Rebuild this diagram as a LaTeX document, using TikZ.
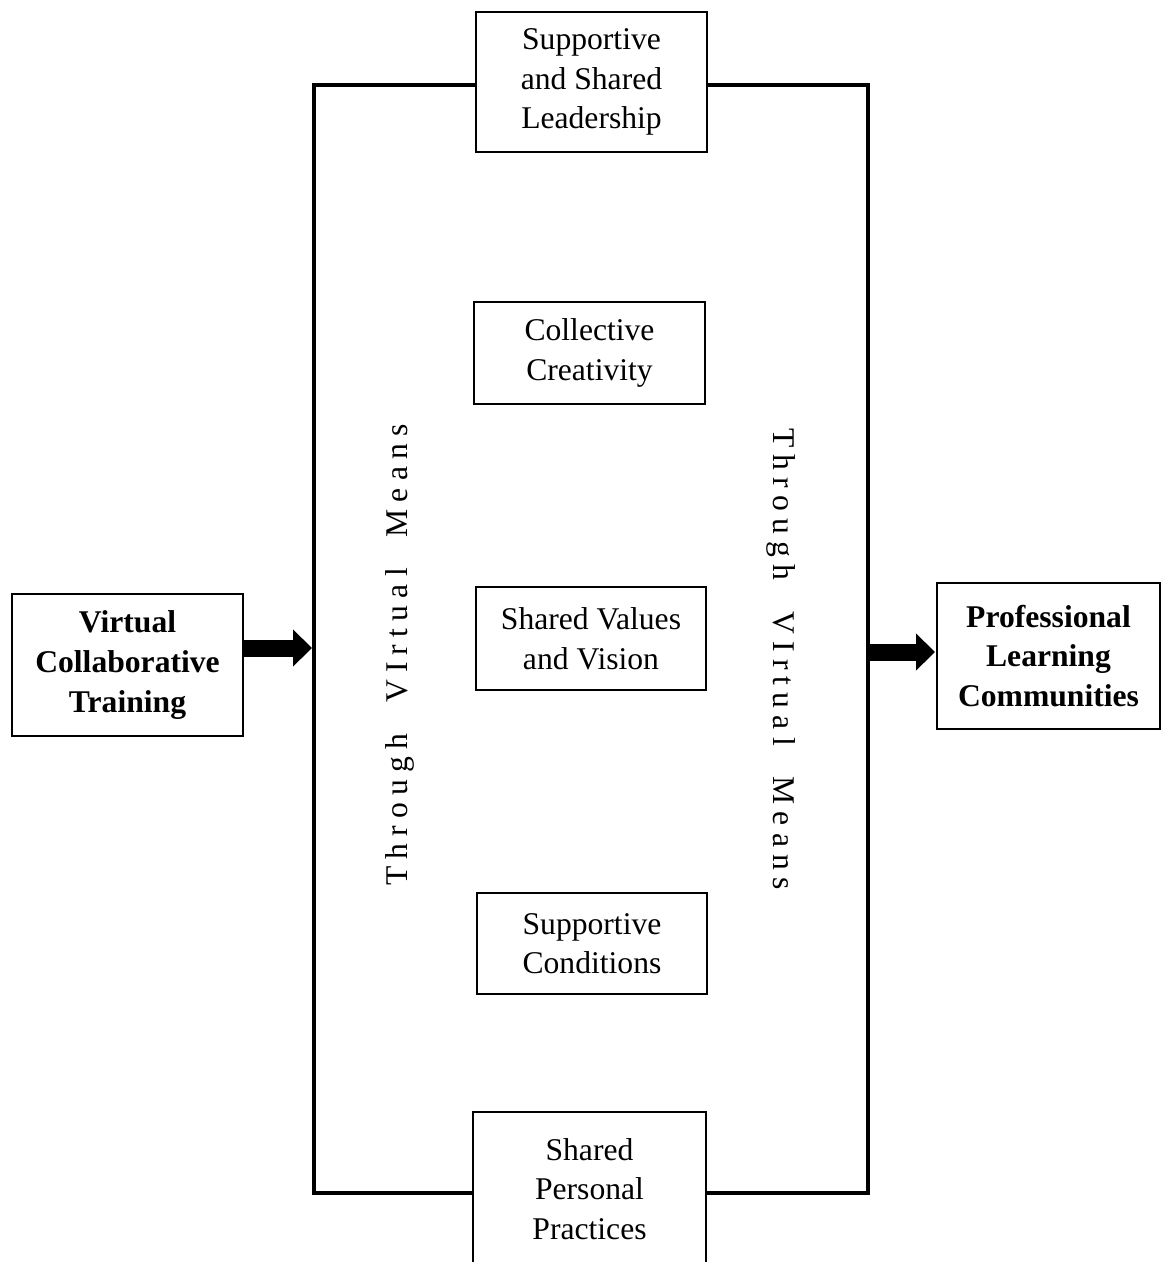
\documentclass[tikz,border=0pt]{standalone}
\usepackage{fontspec}
\setmainfont{Liberation Serif}
\usetikzlibrary{positioning,arrows.meta}

\tikzset{
  factor/.style={draw, line width=1.1pt, align=center, inner sep=0pt,
    font=\fontsize{18}{22.5}\selectfont},
  side/.style={factor, font=\fontsize{18}{22.5}\selectfont\bfseries},
  frame/.style={line width=2pt},
  fatarrow/.style={line width=0.34cm, -{Triangle[length=0.38cm,width=0.72cm]}},
  means/.style={inner sep=0pt, font=\fontsize{18}{22}\selectfont\addfontfeature{LetterSpace=23}}
}

\begin{document}
\begin{tikzpicture}[x=0.02cm, y=-0.02cm]
\useasboundingbox (0,0) rectangle (1162,1262);

\def\xl{314}
\def\xr{868}

\node[factor, minimum width=4.62cm, minimum height=2.8cm] (lead) at (591.5,82) {Supportive\\and Shared\\Leadership};
\node[factor, minimum width=4.62cm, minimum height=2.04cm] (crea) at (589.5,353) {Collective\\Creativity};
\node[factor, minimum width=4.6cm, minimum height=2.06cm] (vis) at (591,638.5) {Shared Values\\and Vision};
\node[factor, minimum width=4.6cm, minimum height=2.02cm] (cond) at (592,943.5) {Supportive\\Conditions};
\node[factor, minimum width=4.66cm, minimum height=3.08cm] (prac) at (589.5,1189) {Shared\\Personal\\Practices};

\node[side, minimum width=4.62cm, minimum height=2.84cm] (vct) at (127.5,665) {Virtual\\Collaborative\\Training};
\node[side, minimum width=4.46cm, minimum height=2.92cm] (plc) at (1048.5,656) {Professional\\Learning\\Communities};

\coordinate (fl) at (\xl,85);
\coordinate (fr) at (\xr,85);
\coordinate (fb) at (\xl,1193);
\draw[frame] (lead.west |- fl) -- (fl) -- (fl |- fb) -- (prac.west |- fb);
\draw[frame] (lead.east |- fr) -- (fr) -- (fr |- fb) -- (prac.east |- fb);

\node[means, rotate=90] (lmeans) at (400,655) {Through\ \ VIrtual\ \ Means};
\node[means, rotate=-90] (rmeans) at (781,659) {Through\ \ VIrtual\ \ Means};

\coordinate (inl) at (312,648);
\coordinate (outr) at (935,652);
\draw[fatarrow] (vct.east |- inl) -- (inl);
\draw[fatarrow] (fr |- outr) -- (outr);

\end{tikzpicture}
\end{document}
